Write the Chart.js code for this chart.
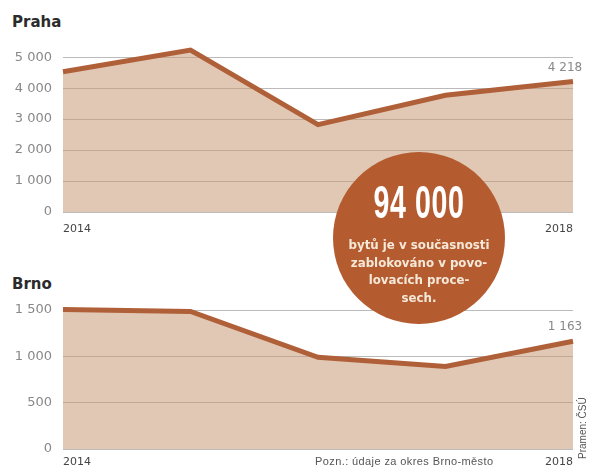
<!DOCTYPE html>
<html>
<head>
<meta charset="utf-8">
<script src="https://cdn.jsdelivr.net/npm/chart.js@4"></script>
<style>
  body { margin: 0; background: #fff; font-family: "Liberation Sans", Arial, sans-serif; }
  #wrap { position: relative; width: 591px; height: 469px; overflow: hidden; }
  canvas { position: absolute; left: 0; }
  .city { position: absolute; left: 12px; font-family: "DejaVu Sans", sans-serif; font-weight: bold; font-size: 15px; color: #2b2b2b; }
  #bubble {
    position: absolute; left: 333px; top: 152px; width: 172px; height: 172px;
    border-radius: 50%; background: rgb(180, 92, 48); z-index: 5;
    color: #f5e8d8; text-align: center;
  }
  #big {
    position: absolute; left: 0; right: 0; top: 28px;
    font-size: 46px; font-weight: bold; color: #fff; line-height: 45px;
    transform: scaleX(0.62); letter-spacing: 1px;
  }
  #sub {
    position: absolute; left: 0; right: 0; top: 85px;
    font-family: "DejaVu Sans", sans-serif;
    font-size: 11.8px; font-weight: bold; line-height: 17.7px;
  }
  .note { position: absolute; font-size: 11px; letter-spacing: 0.4px; color: #555; }
  #src { position: absolute; left: 577px; top: 459px; transform-origin: 0 0; transform: rotate(-90deg); font-size: 10px; color: #555; white-space: nowrap; }
</style>
</head>
<body>
<div id="wrap">
  <div class="city" style="top:13px">Praha</div>
  <canvas id="praha" width="591" height="214" style="top:26px"></canvas>
  <div class="city" style="top:275px">Brno</div>
  <canvas id="brno" width="591" height="187" style="top:282px"></canvas>
  <div id="bubble">
    <div id="big">94 000</div>
    <div id="sub">bytů je v současnosti<br>zablokováno v povo-<br>lovacích proce-<br>sech.</div>
  </div>
  <div class="note" style="left:315px; top:455px">Pozn.: údaje za okres Brno-město</div>
  <div id="src">Pramen: ČSÚ</div>
</div>
<script>
const years = ['2014', '2015', '2016', '2017', '2018'];
const prahaValues = [4530, 5230, 2820, 3770, 4218];
const brnoValues = [1505, 1485, 990, 890, 1163];
const prahaTicks = [0, 1000, 2000, 3000, 4000, 5000];
const brnoTicks = [0, 500, 1000, 1500];

const lineColor = 'rgb(176, 96, 56)';
const fillColor = 'rgba(200, 155, 120, 0.55)';
const tickFont = '"DejaVu Sans", sans-serif';

function fmt(v) {
    return String(v).replace(/\B(?=(\d{3})+(?!\d))/g, ' ');
}

// value of the last point, written above it
const lastLabel = {
    id: 'lastLabel',
    afterDatasetsDraw(chart) {
        const meta = chart.getDatasetMeta(0);
        const pt = meta.data[meta.data.length - 1];
        const data = chart.data.datasets[0].data;
        const ctx = chart.ctx;
        ctx.save();
        ctx.font = '12px ' + tickFont;
        ctx.fillStyle = '#888';
        ctx.textAlign = 'center';
        ctx.textBaseline = 'middle';
        ctx.fillText(fmt(data[data.length - 1]), pt.x - 8, pt.y - 14);
        ctx.restore();
    }
};

function makeChart(id, values, ticks, max, xHeight, xPad) {
    return new Chart(document.getElementById(id), {
        type: 'line',
        data: {
            labels: years,
            datasets: [{
                data: values,
                borderColor: lineColor,
                borderWidth: 5,
                borderJoinStyle: 'miter',
                backgroundColor: fillColor,
                fill: 'origin',
                pointRadius: 0,
                tension: 0,
                clip: false
            }]
        },
        options: {
            responsive: false,
            animation: false,
            devicePixelRatio: 1,
            layout: { padding: { top: 0, right: 18, left: 0, bottom: 0 } },
            plugins: { legend: { display: false }, tooltip: { enabled: false } },
            scales: {
                x: {
                    offset: false,
                    grid: { display: false, drawTicks: false },
                    border: { display: false },
                    afterFit: s => { s.height = xHeight; },
                    ticks: {
                        autoSkip: false,
                        maxRotation: 0,
                        align: 'inner',
                        padding: xPad,
                        color: '#444',
                        font: { size: 11, family: tickFont },
                        callback: (v, i) => (i === 0 || i === years.length - 1) ? years[i] : ''
                    }
                },
                y: {
                    min: 0,
                    max: max,
                    afterBuildTicks: s => { s.ticks = ticks.map(v => ({ value: v })); },
                    afterFit: s => { s.width = 63; },
                    border: { display: false },
                    grid: { color: '#bbb', lineWidth: 1, drawTicks: false },
                    ticks: {
                        padding: 11,
                        color: '#888',
                        font: { size: 13, family: tickFont },
                        callback: v => fmt(v)
                    }
                }
            }
        },
        plugins: [lastLabel]
    });
}

makeChart('praha', prahaValues, prahaTicks, 5400, 28, 11);
makeChart('brno', brnoValues, brnoTicks, 1600, 20, 7);
</script>
</body>
</html>
